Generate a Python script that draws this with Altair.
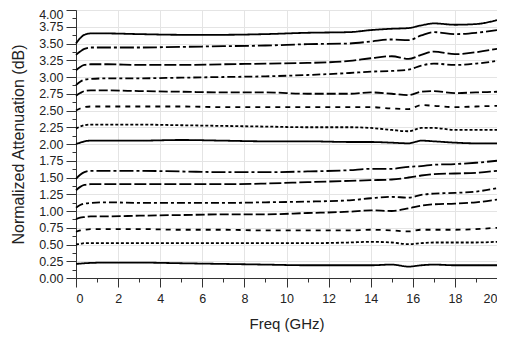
import altair as alt
import pandas as pd

freq = [0, 0.2, 0.4, 0.7, 1.5, 3, 5, 7, 9, 11, 13, 14, 15, 15.8, 16.4, 17, 18, 19, 20]

s1 = [3.50, 3.58, 3.63, 3.65, 3.65, 3.64, 3.63, 3.63, 3.64, 3.66, 3.67, 3.70, 3.72, 3.73, 3.77, 3.80, 3.78, 3.79, 3.85]
s2 = [3.33, 3.38, 3.42, 3.44, 3.44, 3.44, 3.45, 3.46, 3.47, 3.49, 3.50, 3.53, 3.56, 3.55, 3.62, 3.67, 3.64, 3.66, 3.70]
s3 = [3.10, 3.15, 3.18, 3.19, 3.19, 3.18, 3.18, 3.19, 3.20, 3.21, 3.24, 3.28, 3.31, 3.27, 3.33, 3.38, 3.34, 3.37, 3.42]
s4 = [2.88, 2.93, 2.96, 2.97, 2.98, 2.98, 2.99, 3.00, 3.01, 3.03, 3.06, 3.08, 3.09, 3.11, 3.17, 3.20, 3.18, 3.20, 3.24]
s5 = [2.72, 2.76, 2.79, 2.80, 2.80, 2.79, 2.78, 2.77, 2.77, 2.75, 2.75, 2.77, 2.75, 2.73, 2.78, 2.79, 2.76, 2.77, 2.78]
s6 = [2.50, 2.53, 2.55, 2.56, 2.56, 2.56, 2.56, 2.55, 2.55, 2.55, 2.55, 2.55, 2.53, 2.52, 2.58, 2.57, 2.55, 2.56, 2.57]
s7 = [2.23, 2.26, 2.28, 2.29, 2.29, 2.29, 2.28, 2.27, 2.26, 2.25, 2.25, 2.24, 2.21, 2.19, 2.24, 2.24, 2.21, 2.21, 2.21]
s8 = [2.00, 2.02, 2.04, 2.05, 2.05, 2.05, 2.06, 2.05, 2.04, 2.04, 2.03, 2.03, 2.02, 2.01, 2.05, 2.04, 2.02, 2.01, 2.01]
s9 = [1.48, 1.54, 1.58, 1.60, 1.60, 1.60, 1.59, 1.58, 1.58, 1.59, 1.61, 1.63, 1.63, 1.66, 1.67, 1.69, 1.70, 1.72, 1.75]
s10 = [1.31, 1.36, 1.39, 1.40, 1.40, 1.40, 1.40, 1.40, 1.41, 1.43, 1.45, 1.46, 1.47, 1.50, 1.53, 1.55, 1.56, 1.57, 1.60]
s11 = [1.05, 1.09, 1.11, 1.12, 1.13, 1.12, 1.12, 1.12, 1.13, 1.14, 1.16, 1.19, 1.21, 1.20, 1.24, 1.26, 1.27, 1.29, 1.34]
s12 = [0.88, 0.90, 0.91, 0.92, 0.92, 0.93, 0.94, 0.95, 0.95, 0.97, 0.99, 1.01, 1.00, 1.04, 1.08, 1.10, 1.11, 1.13, 1.17]
s13 = [0.69, 0.71, 0.72, 0.73, 0.73, 0.73, 0.72, 0.72, 0.71, 0.71, 0.71, 0.72, 0.71, 0.695, 0.72, 0.72, 0.72, 0.73, 0.75]
s14 = [0.50, 0.51, 0.52, 0.52, 0.52, 0.52, 0.52, 0.52, 0.52, 0.52, 0.53, 0.54, 0.53, 0.505, 0.52, 0.53, 0.53, 0.53, 0.54]
s15 = [0.21, 0.215, 0.22, 0.225, 0.23, 0.23, 0.22, 0.21, 0.20, 0.19, 0.19, 0.19, 0.20, 0.17, 0.19, 0.20, 0.19, 0.19, 0.19]

series = [s1, s2, s3, s4, s5, s6, s7, s8, s9, s10, s11, s12, s13, s14, s15]
names = [f"s{i+1}" for i in range(len(series))]
dashes = [
    [1, 0], [14, 3, 3, 3], [12, 3], [8, 3, 3, 3], [9, 3], [5, 5], [3, 2], [1, 0],
    [14, 3, 3, 3], [12, 3], [8, 3, 3, 3], [9, 3], [5, 5], [3, 2], [1, 0],
]

x_ticks = list(range(0, 21))
y_ticks = [i * 0.125 for i in range(33)]

rows = []
for n, ys in zip(names, series):
    for f, v in zip(freq, ys):
        rows.append({"series": n, "freq": f, "att": v})
df = pd.DataFrame(rows)

chart = alt.Chart(df).mark_line(color="black", strokeWidth=1.8, interpolate="monotone").encode(
    x=alt.X(
        "freq:Q",
        scale=alt.Scale(domain=[0, 20], nice=False),
        axis=alt.Axis(
            title="Freq (GHz)",
            values=x_ticks,
            labelExpr="datum.value % 2 == 0 ? datum.label : ''",
            tickSize={"condition": {"test": "datum.value % 2 != 0", "value": 4}, "value": 9},
            gridOpacity={"condition": {"test": "datum.value % 2 != 0", "value": 0}, "value": 1},
            labelPadding=5,
            titlePadding=12,
        ),
    ),
    y=alt.Y(
        "att:Q",
        scale=alt.Scale(domain=[0, 4], nice=False),
        axis=alt.Axis(
            title="Normalized  Attenuation (dB)",
            values=y_ticks,
            labelExpr="datum.value % 0.25 == 0 ? format(datum.value, '.2f') : ''",
            tickSize={"condition": {"test": "datum.value % 0.25 != 0", "value": 4}, "value": 10},
            gridOpacity={"condition": {"test": "datum.value % 0.25 != 0", "value": 0}, "value": 1},
            labelBaseline={"condition": {"test": "datum.value >= 4", "value": "top"}, "value": "middle"},
            labelOffset={"condition": {"test": "datum.value >= 4", "value": -2}, "value": 0},
            labelPadding=3,
            titlePadding=12,
            titleFontSize=16,
        ),
    ),
    strokeDash=alt.StrokeDash(
        "series:N",
        scale=alt.Scale(domain=names, range=dashes),
        legend=None,
    ),
).properties(
    width=421,
    height=268,
    autosize=alt.AutoSizeParams(type="none"),
    padding={"left": 68, "top": 2, "right": 0, "bottom": 55},
).configure(
    font="Liberation Sans",
    background="white",
).configure_view(
    stroke="#555555",
    strokeWidth=1,
).configure_axis(
    domainColor="#333333",
    tickColor="#333333",
    labelColor="#222222",
    titleColor="#222222",
    labelFontSize=12.5,
    titleFontSize=15,
    titleFontWeight="normal",
    gridColor="#e4e4e4",
    gridWidth=1,
)

chart.save("out.html", embed_options={"renderer": "svg", "actions": False})
